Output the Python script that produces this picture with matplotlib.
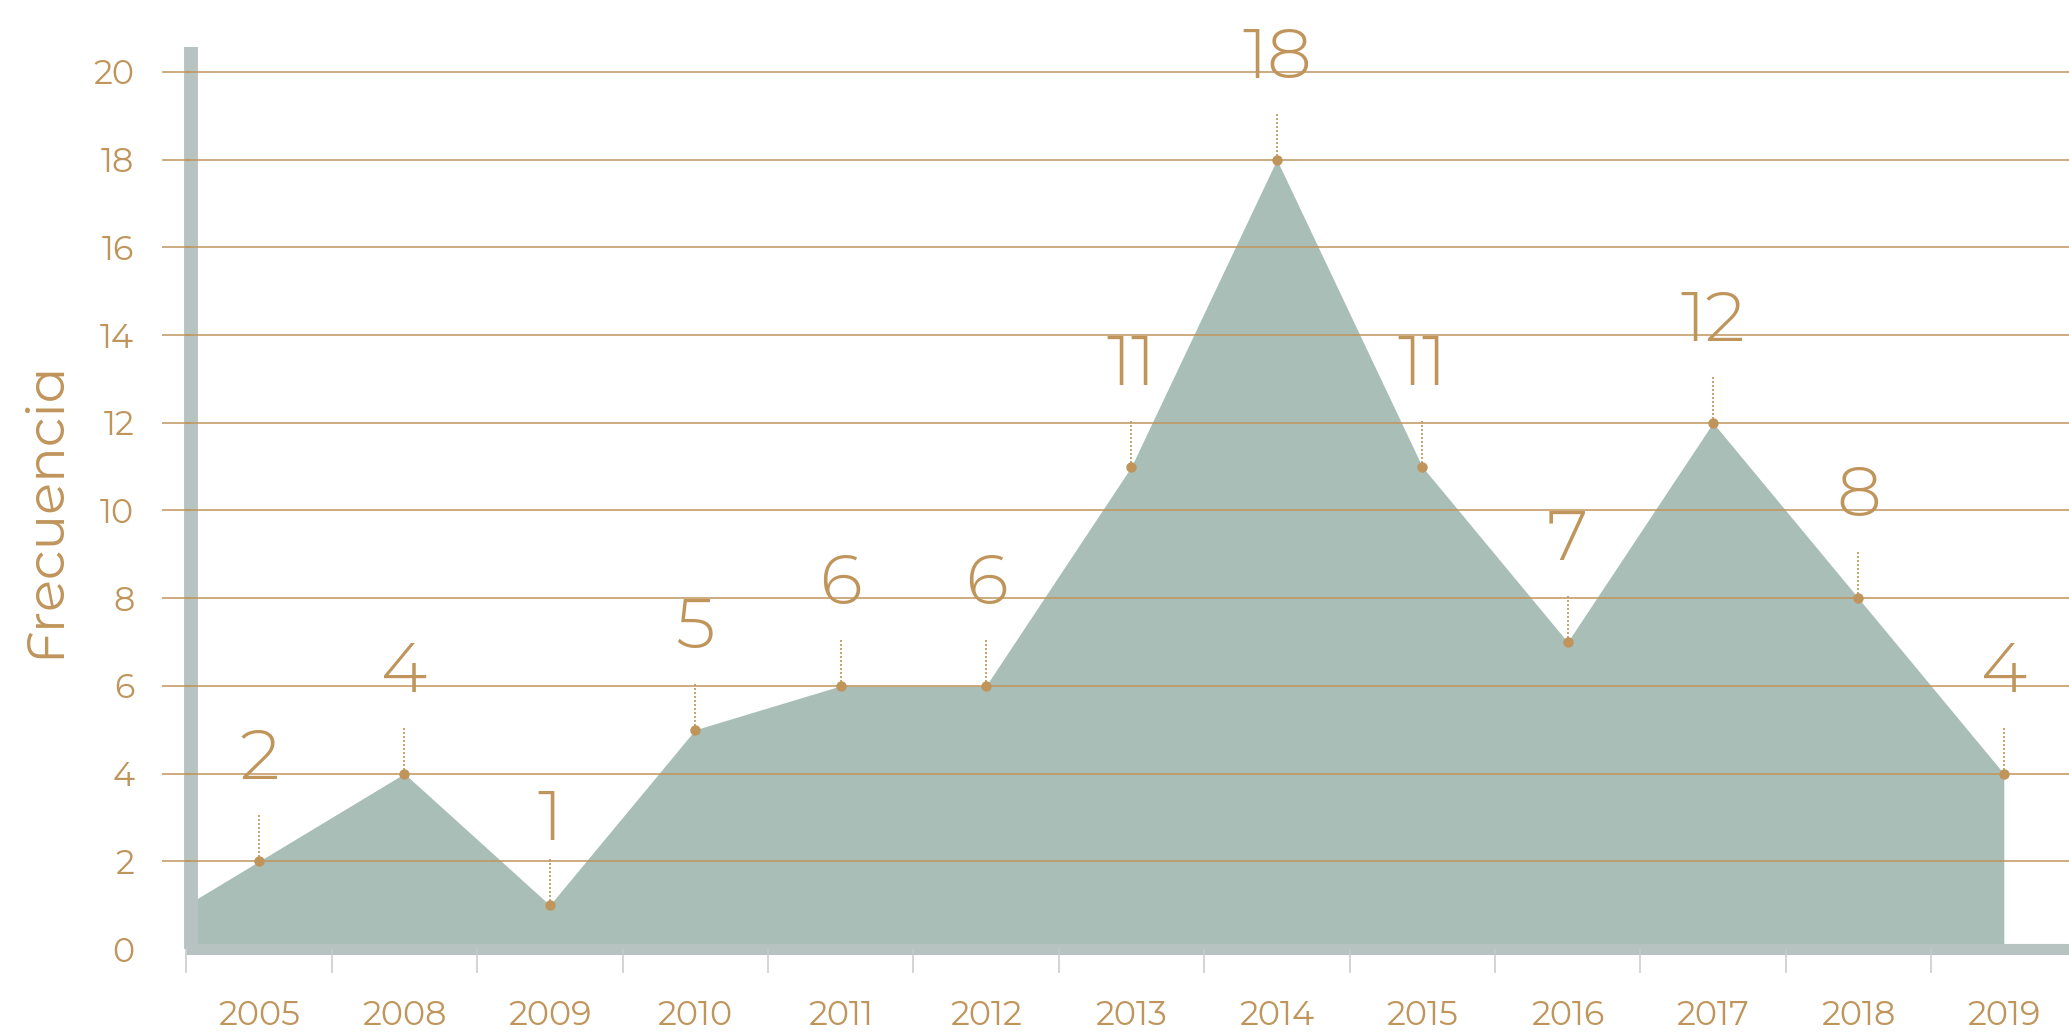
import numpy as np
import matplotlib
matplotlib.use('Agg')
import matplotlib.pyplot as plt
from matplotlib import font_manager as fm

# data
years = ['2005', '2008', '2009', '2010', '2011', '2012', '2013',
         '2014', '2015', '2016', '2017', '2018', '2019']
counts = [2, 4, 1, 5, 6, 6, 11, 18, 11, 7, 12, 8, 4]
y_ticks = [0, 2, 4, 6, 8, 10, 12, 14, 16, 18, 20]
# how far (points) each value label sits above its point
label_lift = [59, 59, 47, 59, 59, 59, 59, 59, 59, 59, 59, 59, 59]

gold = '#c0955c'
area_green = '#a8beb7'
bar_gray = '#b7c3c1'
tick_gray = '#c9c9c9'


def find_font(files, size):
    # pick the first installed file from the list, else fall back to Lato
    for name in files:
        for f in fm.fontManager.ttflist:
            if f.fname.split('/')[-1] == name:
                return fm.FontProperties(fname=f.fname, size=size)
    return fm.FontProperties(family='Lato', size=size)


light_files = ['Montserrat-Light.ttf', 'MontserratAlternates-Light.ttf', 'Lato-Light.ttf']
regular_files = ['Montserrat-Regular.ttf', 'MontserratAlternates-Regular.ttf', 'Lato-Regular.ttf']

W, H = 2069, 1033
fig = plt.figure(figsize=(W / 100, H / 100), dpi=100)
# axes box in pixels: x from band edge -0.5 to 12.5, y from value 0 to the top of the bar
left, right, bottom, top = 186.3, 2076.5, 949, 47
ax = fig.add_axes([left / W, 1 - bottom / H, (right - left) / W, (bottom - top) / H])

# spines first: moving a spine rebuilds the ticks
for side in ['top', 'right']:
    ax.spines[side].set_visible(False)
ax.spines['left'].set_position(('outward', -3.6))
ax.spines['left'].set_linewidth(10)
ax.spines['left'].set_color(bar_gray)
ax.spines['bottom'].set_linewidth(8)
ax.spines['bottom'].set_color(bar_gray)
for side in ['left', 'bottom']:
    ax.spines[side].set_zorder(2)
    ax.spines[side].set_capstyle('butt')

x = np.arange(len(years))
y = np.array(counts, dtype=float)

# area runs out to the left band edge, continuing the first segment
x_area = np.r_[-0.5, x]
y_area = np.r_[y[0] - 0.5 * (y[1] - y[0]), y]
ax.fill_between(x_area, y_area, 0, color=area_green, lw=0, zorder=1)

# dotted leaders and points
ax.vlines(x, y, y + 1.05, colors=gold, linestyles=(0, (1.2, 1.2)), lw=1.2, zorder=3)
ax.plot(x, y, 'o', ms=7.5, color=gold, mec='none', zorder=4)

label_fp = find_font(light_files, 51)
for xi, v, lift in zip(x, counts, label_lift):
    ax.annotate(str(v), (xi, v), xytext=(0, lift), textcoords='offset points',
                ha='center', va='baseline', color=gold, fontproperties=label_fp,
                annotation_clip=False)

ax.set_xlim(-0.5, 12.5)
ax.set_ylim(0, 20.57)

ax.set_yticks(y_ticks)
ax.set_xticks(x)
ax.set_xticklabels(years)
ax.set_xticks(np.arange(-0.5, 12, 1), minor=True)

ax.tick_params(axis='y', length=21, width=1.1, color=gold, pad=20, labelcolor=gold)
ax.tick_params(axis='x', which='major', length=0, pad=37, labelcolor=gold)
ax.tick_params(axis='x', which='minor', length=17, width=1.1, color=tick_gray)

ax.grid(axis='y', color=gold, lw=1.1)
ax.set_axisbelow(False)
# no grid line or tick mark at zero, the bottom bar sits there
zero_tick = ax.yaxis.get_major_ticks()[0]
zero_tick.gridline.set_visible(False)
zero_tick.tick1line.set_visible(False)

tick_fp = find_font(regular_files, 24)
for lab in ax.get_xticklabels() + ax.get_yticklabels():
    lab.set_fontproperties(tick_fp)
    lab.set_color(gold)

fig.text(45 / W, 1 - 509 / H, 'Frecuencia', rotation=90, ha='center', va='center',
         color=gold, fontproperties=find_font(regular_files, 38))

fig.savefig('out.png', dpi=100, facecolor='white')
